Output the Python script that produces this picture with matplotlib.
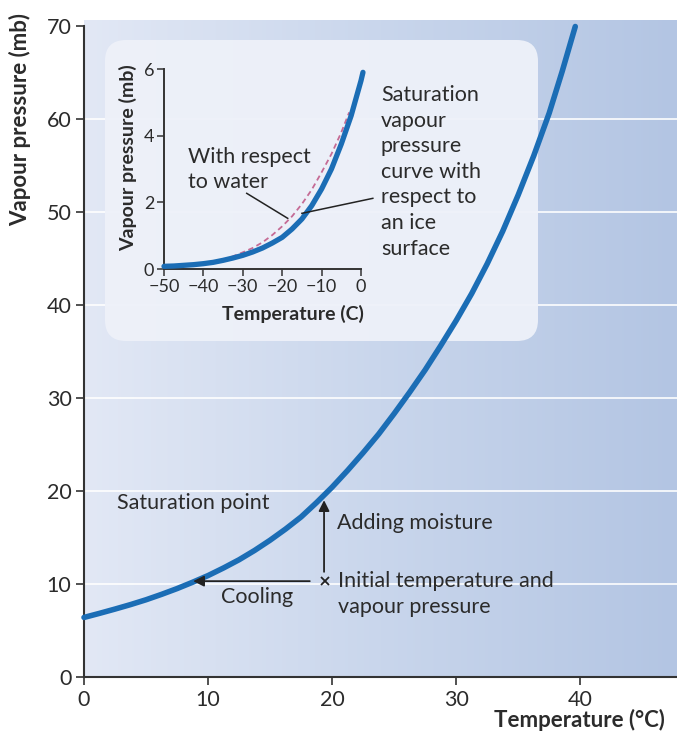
import numpy as np
import matplotlib
matplotlib.use("Agg")
import matplotlib.pyplot as plt
from matplotlib.colors import LinearSegmentedColormap
from matplotlib.patches import FancyBboxPatch

plt.rcParams['font.family'] = ['Lato', 'DejaVu Sans']

# ---- data ----
main_temp = [0, 1.25, 2.5, 3.75, 5, 6.25, 7.5, 8.75, 10, 11.25, 12.5, 13.75, 15, 16.25,
             17.5, 18.75, 20, 21.25, 22.5, 23.75, 25, 26.25, 27.5, 28.75, 30, 31.25,
             32.5, 33.75, 35, 36.25, 37.5, 38.55, 39.6]
main_vp = [6.4, 6.84, 7.3, 7.78, 8.3, 8.88, 9.5, 10.18, 10.9, 11.72, 12.6, 13.6, 14.7, 15.9,
           17.2, 18.75, 20.4, 22.2, 24.1, 26.1, 28.3, 30.6, 33.0, 35.6, 38.3, 41.2,
           44.4, 47.9, 51.8, 56.0, 60.6, 65.1, 69.9]

ice_temp = [-50, -47.5, -45, -42.5, -40, -37.5, -35, -32.5, -30, -27.5, -25, -22.5,
            -20, -17.5, -15, -12.5, -10, -7.5, -5, -2.5, 0, 0.5]
ice_vp = [0.08, 0.09, 0.11, 0.13, 0.16, 0.2, 0.26, 0.33, 0.41, 0.51, 0.63, 0.78,
          0.95, 1.2, 1.5, 1.9, 2.4, 3.0, 3.75, 4.6, 5.65, 5.9]

water_temp = [-35, -32.5, -30, -27.5, -25, -22.5, -20, -17.5, -15, -12.5, -10, -7.5, -5, -3]
water_vp = [0.28, 0.38, 0.5, 0.63, 0.8, 1.02, 1.28, 1.58, 1.95, 2.38, 2.9, 3.45, 4.1, 4.7]

main_xticks = [0, 10, 20, 30, 40]
main_yticks = [0, 10, 20, 30, 40, 50, 60, 70]
inset_xticks = [-50, -40, -30, -20, -10, 0]
inset_yticks = [0, 2, 4, 6]

W, H = 677, 736
fig = plt.figure(figsize=(W / 100, H / 100), dpi=100)
fig.patch.set_facecolor('white')

def fx(px):
    return px / W

def fy(py):
    return 1 - py / H

TXT = '#2b2b2b'
BLUE = '#1b6db5'

# ---- main axes ----
ax = fig.add_axes([fx(84), fy(677), (677 - 84) / W, (677 - 20) / H])
ax.set_xlim(0, 47.8)
ax.set_ylim(0, 70.6)
ax.set_facecolor('none')

cmap = LinearSegmentedColormap.from_list('bg', ['#e2e8f5', '#c9d6ec', '#b3c5e3'])
grad = np.linspace(0, 1, 256).reshape(1, -1)
ax.imshow(grad, cmap=cmap, extent=[0, 1, 0, 1], transform=ax.transAxes,
          aspect='auto', zorder=0, interpolation='bicubic')

for yv in main_yticks[1:-1]:
    ax.axhline(yv, color='white', lw=1.3, alpha=0.9, zorder=1)

for s in ['top', 'right']:
    ax.spines[s].set_visible(False)
for s in ['left', 'bottom']:
    ax.spines[s].set_color('#333333')
    ax.spines[s].set_linewidth(1.5)
ax.spines['left'].set_bounds(0, 70)

ax.set_xticks(main_xticks)
ax.set_yticks(main_yticks)
ax.tick_params(axis='both', direction='out', length=6, width=1.2, color='#333333',
               labelsize=15.5, labelcolor=TXT, pad=3)

# inset rounded box (in data coords of main axes)
bx0, bx1 = (105 - 84) / 12.406, (538 - 84) / 12.406
by0, by1 = (677 - 341) / 9.306, (677 - 40) / 9.306
box = FancyBboxPatch((bx0, by0), bx1 - bx0, by1 - by0,
                     boxstyle='round,pad=0,rounding_size=1.7',
                     mutation_aspect=1.33, facecolor='#eef1f9', edgecolor='none',
                     alpha=0.95, zorder=2)
ax.add_patch(box)

ax.plot(main_temp, main_vp, color=BLUE, lw=4.0, solid_capstyle='round',
        solid_joinstyle='round', zorder=3, clip_on=False)

# annotations
ax.text(2.66, 18.7, 'Saturation point', fontsize=15.5, color=TXT, va='center', ha='left', zorder=4)
ax.annotate('', xy=(8.8, 10.3), xytext=(18.2, 10.3),
            arrowprops=dict(arrowstyle='-|>', color='#222222', lw=1.3,
                            mutation_scale=16, shrinkA=0, shrinkB=0), zorder=4)
ax.annotate('', xy=(19.35, 19.0), xytext=(19.35, 11.3),
            arrowprops=dict(arrowstyle='-|>', color='#222222', lw=1.3,
                            mutation_scale=16, shrinkA=0, shrinkB=0), zorder=4)
ax.plot([19.45], [10.3], marker='x', ms=6, mew=1.3, color='#222222', zorder=4)
ax.text(13.95, 8.6, 'Cooling', fontsize=15.5, color=TXT, va='center', ha='center', zorder=4)
ax.text(20.4, 16.55, 'Adding moisture', fontsize=15.5, color=TXT, va='center', ha='left', zorder=4)
ax.text(20.45, 10.35, 'Initial temperature and', fontsize=15.5, color=TXT, va='center', ha='left', zorder=4)
ax.text(20.45, 7.5, 'vapour pressure', fontsize=15.5, color=TXT, va='center', ha='left', zorder=4)

fig.text(fx(20), fy(120), 'Vapour pressure (mb)', rotation=90, fontsize=16,
         fontweight='bold', color=TXT, ha='center', va='center')
fig.text(fx(665), fy(720), 'Temperature (°C)', fontsize=16, fontweight='bold',
         color=TXT, ha='right', va='center')

# ---- inset axes ----
ix0, ix1 = 164, 361
iy0, iy1 = 269, 69
ia = fig.add_axes([fx(ix0), fy(iy0), (ix1 - ix0) / W, (iy0 - iy1) / H])
ia.set_xlim(-50, 0)
ia.set_ylim(0, 6)
ia.set_facecolor('none')
for s in ['top', 'right']:
    ia.spines[s].set_visible(False)
for s in ['left', 'bottom']:
    ia.spines[s].set_color('#333333')
    ia.spines[s].set_linewidth(1.4)
ia.set_xticks(inset_xticks)
ia.set_yticks(inset_yticks)
ia.tick_params(axis='both', direction='out', length=5, width=1.1, color='#333333',
               labelsize=13, labelcolor=TXT, pad=2)

ia.plot(water_temp, water_vp, color='#c56b95', lw=1.3, ls=(0, (3, 2)), zorder=2, clip_on=False)
ia.plot(ice_temp, ice_vp, color=BLUE, lw=3.8, solid_capstyle='round',
        solid_joinstyle='round', zorder=3, clip_on=False)

# leader lines (inset data coords)
ia.plot([-29.0, -18.6], [2.27, 1.52], color='#222222', lw=1.1, zorder=4, clip_on=False)
ia.plot([3.0, -15.0], [2.12, 1.67], color='#222222', lw=1.1, zorder=4, clip_on=False)

fig.text(fx(188), fy(157), 'With respect', fontsize=15.5, color=TXT, ha='left', va='center')
fig.text(fx(188), fy(182), 'to water', fontsize=15.5, color=TXT, ha='left', va='center')

sat_lines = ['Saturation', 'vapour', 'pressure', 'curve with', 'respect to', 'an ice', 'surface']
for i, line in enumerate(sat_lines):
    fig.text(fx(381), fy(95 + 25.6 * i), line, fontsize=15.5, color=TXT, ha='left', va='center')

fig.text(fx(128), fy(158), 'Vapour pressure (mb)', rotation=90, fontsize=14,
         fontweight='bold', color=TXT, ha='center', va='center')
fig.text(fx(293), fy(314), 'Temperature (C)', fontsize=14, fontweight='bold',
         color=TXT, ha='center', va='center')

fig.savefig('out.png', dpi=100, facecolor='white')
